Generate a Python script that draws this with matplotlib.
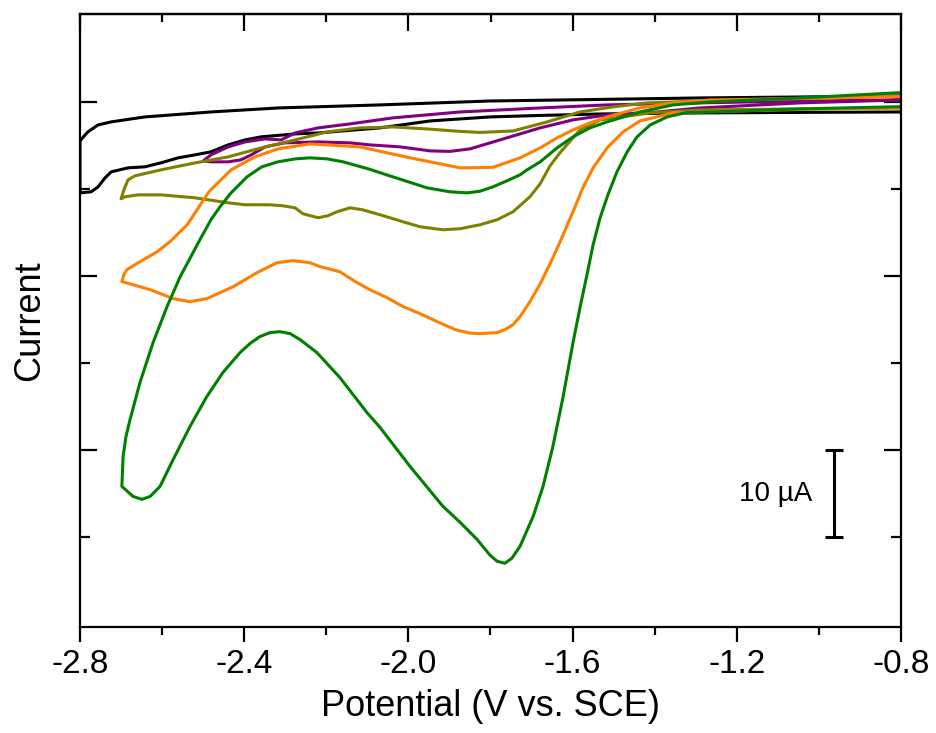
import matplotlib
matplotlib.use("Agg")
import matplotlib.pyplot as plt

plt.rcParams['font.family'] = ['Liberation Sans', 'DejaVu Sans']
plt.rcParams['axes.unicode_minus'] = False

# ---------------- data (potential in V vs SCE, current in uA) ----------------
black_E = [-0.800, -1.046, -1.290, -1.533, -1.679, -1.801, -1.947, -2.069, -2.220, -2.276,
           -2.359, -2.398, -2.439, -2.481, -2.520, -2.561, -2.603, -2.642, -2.683, -2.724,
           -2.739, -2.756, -2.773, -2.798, -2.800,
           -2.800, -2.798, -2.781, -2.756, -2.724, -2.642, -2.481, -2.318, -2.069, -1.801,
           -1.533, -1.290, -1.046, -0.800]
black_I = [-1.15, -1.20, -1.26, -1.38, -1.55, -1.72, -2.18, -2.98, -3.56, -3.67,
           -4.01, -4.36, -4.93, -5.73, -6.08, -6.42, -7.00, -7.45, -7.57, -8.03,
           -8.72, -9.75, -10.32, -10.44, -10.44,
           -4.47, -4.36, -3.44, -2.64, -2.29, -1.72, -1.15, -0.69, -0.34, 0.11,
           0.29, 0.46, 0.57, 0.69]

purple_E = [-0.800, -1.046, -1.290, -1.394, -1.516, -1.599, -1.679, -1.752, -1.801, -1.850,
            -1.899, -1.947, -2.020, -2.094, -2.142, -2.220, -2.301, -2.349, -2.383, -2.408,
            -2.439, -2.481, -2.500,
            -2.481, -2.439, -2.398, -2.349, -2.310, -2.276, -2.220, -2.142, -2.038, -1.874,
            -1.679, -1.516, -1.290, -1.046, -0.800]
purple_I = [0.23, -0.11, -0.69, -1.15, -1.49, -2.06, -2.98, -4.01, -4.70, -5.39,
            -5.68, -5.62, -5.16, -4.93, -4.70, -4.59, -4.70, -5.16, -6.08, -6.65,
            -6.88, -6.88, -6.77,
            -6.08, -5.16, -4.59, -4.24, -4.36, -3.56, -2.98, -2.52, -1.83, -1.15,
            -0.69, -0.34, -0.11, 0.11, 0.23]

olive_E = [-0.800, -1.046, -1.290, -1.411, -1.533, -1.582, -1.614, -1.631, -1.655, -1.679,
           -1.704, -1.745, -1.784, -1.826, -1.874, -1.916, -1.972, -2.013, -2.069, -2.111,
           -2.142, -2.174, -2.196, -2.220, -2.257, -2.276, -2.305, -2.337, -2.398, -2.439,
           -2.520, -2.603, -2.659, -2.690, -2.700,
           -2.693, -2.683, -2.666, -2.603, -2.520, -2.439, -2.359, -2.276, -2.198, -2.118,
           -2.038, -1.955, -1.874, -1.826, -1.745, -1.662, -1.582, -1.502, -1.419, -1.290,
           -1.046, -0.800]
olive_I = [-0.69, -0.80, -0.92, -1.26, -2.06, -3.21, -4.93, -5.85, -7.34, -9.40,
           -10.89, -12.61, -13.53, -14.11, -14.56, -14.68, -14.33, -13.76, -12.96, -12.39,
           -12.16, -12.61, -13.07, -13.30, -12.84, -12.16, -11.93, -11.81, -11.81, -11.58,
           -11.01, -10.67, -10.67, -10.89, -11.12,
           -10.09, -8.94, -8.49, -7.80, -7.00, -6.31, -5.28, -4.36, -3.44, -2.98,
           -2.87, -3.10, -3.38, -3.50, -3.33, -2.29, -1.15, -0.57, -0.11, 0.11,
           0.40, 0.69]

orange_E = [-0.800, -1.046, -1.297, -1.355, -1.411, -1.436, -1.477, -1.516, -1.550, -1.575,
            -1.599, -1.623, -1.648, -1.679, -1.704, -1.728, -1.745, -1.765, -1.784, -1.826,
            -1.850, -1.886, -1.930, -1.972, -2.013, -2.052, -2.094, -2.133, -2.167, -2.215,
            -2.240, -2.281, -2.320, -2.369, -2.427, -2.491, -2.532, -2.573, -2.629, -2.671,
            -2.698,
            -2.693, -2.686, -2.654, -2.612, -2.581, -2.539, -2.486, -2.432, -2.374, -2.318,
            -2.240, -2.118, -1.996, -1.874, -1.794, -1.728, -1.679, -1.638, -1.599, -1.558,
            -1.516, -1.436, -1.355, -1.265, -1.046, -0.800]
orange_I = [-0.69, -0.86, -1.15, -1.26, -1.90, -2.18, -3.44, -5.28, -7.57, -9.86,
            -12.61, -15.25, -17.89, -20.90, -22.94, -24.66, -25.57, -26.15, -26.49, -26.61,
            -26.55, -26.15, -25.23, -24.31, -23.51, -22.48, -21.56, -20.53, -19.50, -18.92,
            -18.46, -18.23, -18.46, -19.61, -21.22, -22.59, -22.94, -22.59, -21.56, -20.99,
            -20.64,
            -19.84, -19.27, -18.35, -17.20, -16.06, -14.11, -10.32, -7.80, -6.31, -5.39,
            -4.82, -5.16, -6.42, -7.57, -7.51, -6.42, -5.28, -4.13, -3.21, -2.41,
            -1.72, -0.69, -0.11, 0.23, 0.40, 0.61]

green_E = [-0.800, -1.046, -1.265, -1.321, -1.370, -1.411, -1.443, -1.467, -1.492, -1.514,
           -1.533, -1.550, -1.565, -1.582, -1.599, -1.623, -1.648, -1.672, -1.696, -1.728,
           -1.748, -1.765, -1.784, -1.801, -1.833, -1.874, -1.916, -1.996, -2.069, -2.101,
           -2.167, -2.223, -2.264, -2.288, -2.313, -2.337, -2.362, -2.386, -2.410, -2.452,
           -2.491, -2.532, -2.573, -2.605, -2.629, -2.649, -2.671, -2.698,
           -2.695, -2.688, -2.678, -2.654, -2.622, -2.588, -2.556, -2.530, -2.508, -2.481,
           -2.459, -2.432, -2.393, -2.357, -2.318, -2.276, -2.240, -2.198, -2.159, -2.098,
           -2.038, -1.955, -1.899, -1.857, -1.826, -1.794, -1.760, -1.728, -1.711, -1.679,
           -1.638, -1.599, -1.558, -1.516, -1.436, -1.355, -1.265, -1.046, -0.800]
green_I = [-0.54, -0.80, -1.15, -1.20, -1.72, -2.64, -4.01, -5.73, -8.03, -10.67,
           -13.30, -16.40, -19.84, -23.62, -27.64, -33.83, -39.56, -44.15, -47.59, -51.03,
           -52.41, -52.98, -52.75, -52.06, -50.23, -48.28, -46.44, -41.86, -37.39, -35.67,
           -31.65, -28.78, -27.29, -26.61, -26.38, -26.49, -26.95, -27.75, -28.78, -31.08,
           -33.83, -37.27, -41.06, -44.15, -45.30, -45.64, -45.30, -44.15,
           -40.71, -38.42, -36.47, -32.23, -27.64, -23.51, -20.07, -17.78, -15.83, -13.53,
           -12.04, -10.44, -8.60, -7.45, -6.88, -6.54, -6.42, -6.54, -6.88, -7.68,
           -8.60, -9.86, -10.32, -10.44, -10.26, -9.75, -9.06, -8.37, -7.80, -6.88,
           -5.28, -4.01, -2.98, -2.29, -1.15, -0.34, 0.00, 0.46, 1.07]

series = [
    (black_E, black_I, '#000000'),
    (purple_E, purple_I, '#800080'),
    (olive_E, olive_I, '#808000'),
    (orange_E, orange_I, '#FF8000'),
    (green_E, green_I, '#008000'),
]

x_major = [-2.8, -2.4, -2.0, -1.6, -1.2, -0.8]
x_minor = [-2.6, -2.2, -1.8, -1.4, -1.0]
y_major = [0, -20, -40]
y_minor = [-10, -30, -50]

scalebar_E = -0.962
scalebar_I = [-40, -50]
scalebar_text = "10 \u00b5A"

# ---------------- figure ----------------
fig = plt.figure(figsize=(9.36, 7.33), dpi=100)
ax = fig.add_axes([80/936, 106/733, 821/936, 613/733])

for E, I, c in series:
    ax.plot(E, I, color=c, lw=2.2, solid_joinstyle='round', solid_capstyle='round')

ax.set_xlim(-2.8, -0.8)
ax.set_ylim(-60.3, 10.1)

ax.set_xticks(x_major)
ax.set_xticks(x_minor, minor=True)
ax.set_xticklabels([f"{v:.1f}" for v in x_major])
ax.set_yticks(y_major)
ax.set_yticks(y_minor, minor=True)
ax.set_yticklabels([])

ax.tick_params(axis='x', which='major', direction='out', length=11, width=1.6,
               labelsize=24, pad=5, top=False)
ax.tick_params(axis='x', which='minor', direction='out', length=6, width=1.6, top=False)
ax.tick_params(axis='y', which='major', direction='in', length=12, width=1.6,
               left=True, right=True, labelleft=False)
ax.tick_params(axis='y', which='minor', direction='in', length=7, width=1.6,
               left=True, right=True)

sec = ax.secondary_xaxis('top')
sec.set_xticks(x_major)
sec.set_xticks(x_minor, minor=True)
sec.tick_params(axis='x', which='major', direction='in', length=12, width=1.6, labeltop=False)
sec.tick_params(axis='x', which='minor', direction='in', length=6, width=1.6)
sec.spines['top'].set_linewidth(1.6)

for s in ax.spines.values():
    s.set_linewidth(1.6)

ax.set_xlabel("Potential (V vs. SCE)", fontsize=26, labelpad=6)
ax.set_ylabel("Current", fontsize=26, labelpad=20)

# scale bar
ax.plot([scalebar_E, scalebar_E], scalebar_I, color='black', lw=2.2,
        marker='_', markersize=13, markeredgewidth=2.2)
ax.text(scalebar_E - 0.055, sum(scalebar_I) / 2, scalebar_text, fontsize=20,
        ha='right', va='center')

fig.savefig("out.png", dpi=100)
